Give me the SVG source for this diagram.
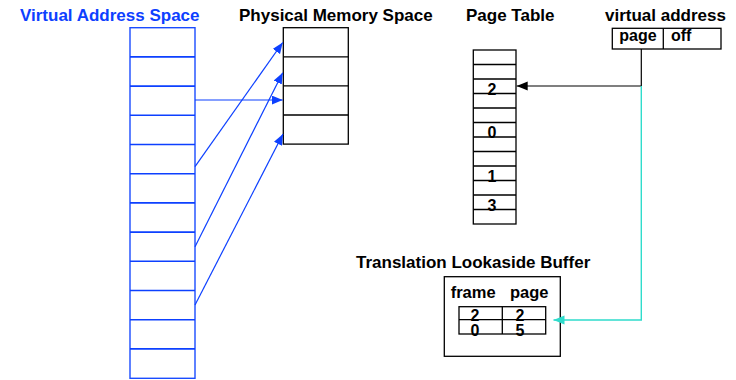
<svg xmlns="http://www.w3.org/2000/svg" width="736" height="380" viewBox="0 0 736 380">
<style>
text{font-family:"Liberation Sans",Arial,sans-serif;font-weight:bold;font-size:16.5px;fill:#000}
.t{font-size:17px}
.s{font-size:16px}
.blue{fill:#0d40ff}
.d{font-size:16px;text-anchor:middle}
.vb{fill:#fff;stroke:#1a4cff;stroke-width:1.4}
.vl{stroke:#0d40ff;stroke-width:1.6}
.bk{fill:#fff;stroke:#000;stroke-width:1.3}
.bl{stroke:#000;stroke-width:1.3}
.ba{fill:none;stroke:#0d40ff;stroke-width:1.2}
.ka{fill:none;stroke:#000;stroke-width:1.2}
.ca{fill:none;stroke:#2fdccc;stroke-width:1.4}
</style>
<defs>
<marker id="ab" markerUnits="userSpaceOnUse" markerWidth="12" markerHeight="10" refX="11" refY="4.5" orient="auto"><path d="M0,0 L11,4.5 L0,9 Z" fill="#0d40ff"/></marker>
<marker id="ak" markerUnits="userSpaceOnUse" markerWidth="12" markerHeight="10" refX="11" refY="4.5" orient="auto"><path d="M0,0 L11,4.5 L0,9 Z" fill="#000"/></marker>
<marker id="ac" markerUnits="userSpaceOnUse" markerWidth="12" markerHeight="10" refX="11" refY="4.5" orient="auto"><path d="M0,0 L11,4.5 L0,9 Z" fill="#2fdccc"/></marker>
</defs>
<g id="virtual-space">
<text class="t blue" x="20" y="20.5">Virtual Address Space</text>
<rect class="vb" x="130" y="27.7" width="65" height="350.6"/>
<path class="vl" d="M130,56.9H195M130,86.1H195M130,115.3H195M130,144.5H195M130,173.7H195M130,202.9H195M130,232.1H195M130,261.3H195M130,290.5H195M130,319.7H195M130,348.9H195"/>
</g>
<g id="physical-memory">
<text class="t" x="239" y="20.5">Physical Memory Space</text>
<rect class="bk" x="283.3" y="27.7" width="65" height="116.4"/>
<path class="bl" d="M283.3,56.8H348.3M283.3,85.9H348.3M283.3,115H348.3"/>
</g>
<g id="page-table">
<text class="t" x="466" y="20.5">Page Table</text>
<rect class="bk" x="473.3" y="50" width="42.7" height="174"/>
<path class="bl" d="M473.3,64.5H516M473.3,79H516M473.3,93.5H516M473.3,108H516M473.3,122.5H516M473.3,137H516M473.3,151.5H516M473.3,166H516M473.3,180.5H516M473.3,195H516M473.3,209.5H516"/>
<text class="d" x="492" y="95">2</text>
<text class="d" x="492" y="138">0</text>
<text class="d" x="492" y="181.5">1</text>
<text class="d" x="492" y="210.5">3</text>
</g>
<g id="virtual-address">
<text class="t" x="605" y="20.5">virtual address</text>
<rect class="bk" x="612.3" y="28.3" width="108.7" height="20.7"/>
<path class="bl" d="M663.3,28.3V49"/>
<text class="s" x="619.3" y="41">page</text>
<text class="s" x="671" y="41">off</text>
</g>
<g id="tlb">
<text class="t" x="356" y="268.3">Translation Lookaside Buffer</text>
<rect class="bk" x="444.3" y="276.7" width="116" height="79.6"/>
<text x="450.7" y="298.3">frame</text>
<text x="510" y="298.3">page</text>
<rect class="bk" x="459" y="306.7" width="86.7" height="27.3"/>
<path class="bl" d="M459,319.7H545.7M502.3,306.7V334"/>
<text class="d" x="475" y="321">2</text>
<text class="d" x="520" y="321">2</text>
<text class="d" x="475" y="335.7">0</text>
<text class="d" x="520" y="335.7">5</text>
</g>
<g id="connectors">
<path class="ba" d="M195,100H282.7" marker-end="url(#ab)"/>
<path class="ba" d="M195,166.7L282.7,42.5" marker-end="url(#ab)"/>
<path class="ba" d="M195,246.7L282.7,72.7" marker-end="url(#ab)"/>
<path class="ba" d="M195,305L283,134" marker-end="url(#ab)"/>
<path class="ka" d="M641.3,49V86H516.7" marker-end="url(#ak)"/>
<path class="ca" d="M641.3,86V320H553.5" marker-end="url(#ac)"/>
</g>
</svg>
